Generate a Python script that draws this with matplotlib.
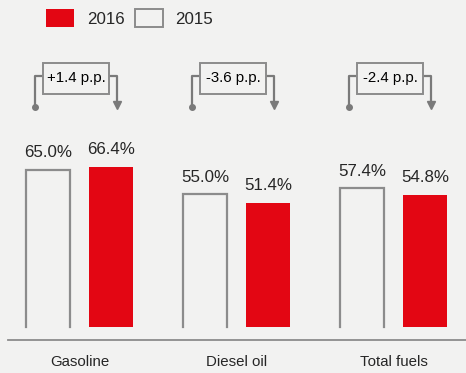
import numpy as np
import matplotlib.pyplot as plt
from matplotlib.patches import Patch, Rectangle

plt.rcParams['font.family'] = ['Liberation Sans', 'DejaVu Sans']

categories = ['Gasoline', 'Diesel oil', 'Total fuels']
share_2015 = [65.0, 55.0, 57.4]
share_2016 = [66.4, 51.4, 54.8]
change_labels = ['+1.4 p.p.', '-3.6 p.p.', '-2.4 p.p.']

RED = '#e30613'
GREY = '#8c8c8c'
BG = '#f2f2f1'
TXT = '#262626'

fig = plt.figure(figsize=(4.66, 3.73), dpi=100, facecolor=BG)
ax = fig.add_axes([0, 0, 1, 1])
ax.set_facecolor(BG)
ax.set_xlim(-0.506, 2.462)
ax.set_ylim(-19.05, 135.4)
ax.axis('off')

x = np.arange(len(categories))
off = 0.2006
w = 0.28

b15 = ax.bar(x - off, share_2015, w, color='none', edgecolor='none')
b16 = ax.bar(x + off, share_2016, w, color=RED, edgecolor='none')

# open-bottom outline for the 2015 bars
for p in b15.patches:
    x0, x1, h = p.get_x(), p.get_x() + p.get_width(), p.get_height()
    ax.plot([x0, x0, x1, x1], [0, h, h, 0], color=GREY, lw=1.6,
            solid_joinstyle='miter')

for bars, vals in ((b15, share_2015), (b16, share_2016)):
    for p, v in zip(bars.patches, vals):
        ax.text(p.get_x() + p.get_width() / 2, v + 4.0, f'{v:.1f}%',
                ha='center', va='bottom', fontsize=12.2, color=TXT)

# baseline
ax.plot([-0.455, 2.462], [-5.4, -5.4], color=GREY, lw=1.3)
for xi, name in zip(x, categories):
    ax.text(xi, -14.3, name, ha='center', va='center', fontsize=10.8, color=TXT)

# change brackets above each group
arm = 0.262
box_w, box_h = 0.42, 12.8
y_top, y_bot = 103.9, 90.9
for xi, lab in zip(x, change_labels):
    xc = xi - 0.02
    ax.plot([xc - arm, xc - arm, xc + arm, xc + arm],
            [y_bot, y_top, y_top, y_bot + 2.0], color='#7a7a7a', lw=1.6,
            zorder=2)
    ax.plot(xc - arm, y_bot, 'o', color='#7a7a7a', ms=4, zorder=3)
    ax.plot(xc + arm, y_bot + 1.0, 'v', color='#7a7a7a', ms=5.5, zorder=3)
    ax.add_patch(Rectangle((xc - box_w / 2, 96.5), box_w, box_h, fc=BG,
                           ec=GREY, lw=1.4, zorder=3))
    ax.text(xc, 102.9, lab, ha='center', va='center', fontsize=10.8,
            color='black', zorder=4)

handles = [Patch(facecolor=RED, edgecolor='none', label='2016'),
           Patch(facecolor=BG, edgecolor=GREY, linewidth=1.4, label='2015')]
fig.legend(handles=handles, ncol=2, frameon=False, loc='upper left',
           bbox_to_anchor=(31 / 466, 1 + 6 / 373), fontsize=12.2,
           handlelength=1.65, handleheight=1.2, handletextpad=0.75,
           columnspacing=0.6, labelcolor=TXT)

fig.savefig('out.png', dpi=100, facecolor=BG)
